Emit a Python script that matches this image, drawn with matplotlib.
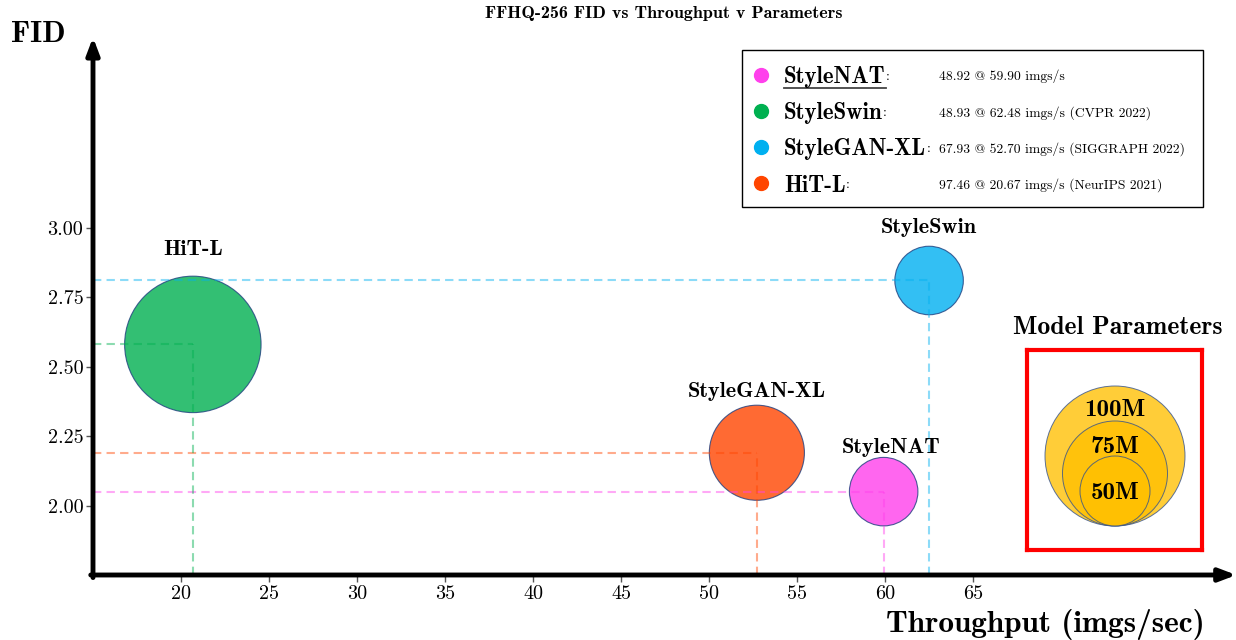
import matplotlib
matplotlib.use("Agg")
import matplotlib.pyplot as plt
from matplotlib.patches import Circle, Rectangle
from matplotlib.lines import Line2D

# ---------------- data ----------------
models = ["StyleNAT", "StyleSwin", "StyleGAN-XL", "HiT-L"]
throughput = [59.90, 62.48, 52.70, 20.67]
fid = [2.05, 2.81, 2.19, 2.58]
params = [48.92, 48.93, 67.93, 97.46]
venues = ["", " (CVPR 2022)", " (SIGGRAPH 2022)", " (NeurIPS 2021)"]
circle_colors = ["#ff40ec", "#00b0f0", "#ff4500", "#00b050"]
legend_colors = ["#ff40ec", "#00b050", "#00b0f0", "#ff4500"]
bubble_labels = ["StyleNAT", "StyleSwin", "StyleGAN-XL", "HiT-L"]
label_dy = [0.16, 0.19, 0.22, 0.34]
label_dx = [0.45, 0.0, 0.0, 0.0]
size_ref = [100, 75, 50]
size_ref_labels = ["100M", "75M", "50M"]
xticks = [20, 25, 30, 35, 40, 45, 50, 55, 60, 65]
yticks = [2.00, 2.25, 2.50, 2.75, 3.00]

W, H, DPI = 1236, 640, 100
RAD_PER_M = 0.7  # pixels of radius per million parameters

plt.rcParams["axes.formatter.use_mathtext"] = True
RM = ["cmr10", "DejaVu Serif"]
BF = ["cmb10", "DejaVu Serif"]

fig = plt.figure(figsize=(W / DPI, H / DPI), dpi=DPI)

def fx(px):
    return px / W

def fy(py):
    return 1 - py / H

# main axes
ax_l, ax_r, ax_t, ax_b = 93, 1220, 61, 575
ax = fig.add_axes([fx(ax_l), fy(ax_b), (ax_r - ax_l) / W, (ax_b - ax_t) / H])
ax.set_xlim(15, 79)
ax.set_ylim(1.75, 3.6)
for s in ax.spines.values():
    s.set_visible(False)

ax.set_xticks(xticks)
ax.set_yticks(yticks)
ax.set_xticklabels([str(t) for t in xticks], fontfamily=RM, fontsize=14.5)
ax.set_yticklabels(["%.2f" % t for t in yticks], fontfamily=RM, fontsize=14.5)
ax.tick_params(direction="out", length=5, width=1, color="#555555", pad=2)

# bubbles
def s_of(p):
    r_pt = p * RAD_PER_M * 72 / DPI
    return (2 * r_pt) ** 2

ax.scatter(throughput, fid, s=[s_of(p) for p in params], c=circle_colors,
           alpha=0.8, edgecolors="#1f3f7f", linewidths=0.8, zorder=3)

# dashed guides
for x, y, c in zip(throughput, fid, circle_colors):
    ax.plot([15, x], [y, y], ls=(0, (4, 2.5)), color=c, alpha=0.45, lw=1.5, zorder=4)
    ax.plot([x, x], [1.75, y], ls=(0, (4, 2.5)), color=c, alpha=0.45, lw=1.5, zorder=4)

# bubble labels (as placed in the original figure)
for x, y, dx, dy, lab in zip(throughput, fid, label_dx, label_dy, bubble_labels):
    ax.text(x + dx, y + dy, lab, ha="center", va="center",
            fontfamily=BF, fontsize=16, zorder=5)

# arrow axes
ax.annotate("", xy=(0, 1.046), xytext=(0, -0.005), xycoords="axes fraction",
            textcoords="axes fraction",
            arrowprops=dict(arrowstyle="-|>,head_length=1.0,head_width=0.38",
                            lw=3.5, color="black", shrinkA=0, shrinkB=0),
            annotation_clip=False, zorder=6)
ax.annotate("", xy=(1.0145, 0), xytext=(-0.002, 0), xycoords="axes fraction",
            textcoords="axes fraction",
            arrowprops=dict(arrowstyle="-|>,head_length=1.0,head_width=0.38",
                            lw=3.5, color="black", shrinkA=0, shrinkB=0),
            annotation_clip=False, zorder=6)

# titles and axis labels
fig.text(fx(664), fy(13), "FFHQ-256 FID vs Throughput v Parameters",
         ha="center", va="center", fontfamily=BF, fontsize=13)
fig.text(fx(38), fy(34), "FID", ha="center", va="center", fontfamily=BF, fontsize=22)
fig.text(fx(1045), fy(625), "Throughput (imgs/sec)", ha="center", va="center",
         fontfamily=BF, fontsize=22.5)

# legend box
fig.patches.append(Rectangle((fx(742), fy(207)), (1203 - 742) / W, (207 - 50) / H,
                             transform=fig.transFigure, fill=False, ec="black",
                             lw=1.0, zorder=10))
row_y = [75, 111, 147, 183]
name_texts = []
for i, (m, p, t, v, c) in enumerate(zip(models, params, throughput, venues, legend_colors)):
    yy = fy(row_y[i])
    fig.add_artist(Line2D([fx(761)], [yy], marker="o", markersize=10, color=c,
                          transform=fig.transFigure, lw=0))
    nt = fig.text(fx(784), yy, m, ha="left", va="center_baseline", fontfamily=BF,
                  fontsize=16.5)
    name_texts.append(nt)
    fig.text(fx(939), yy, "%.2f @ %.2f imgs/s%s" % (p, t, v), ha="left",
             va="center_baseline", fontfamily=RM, fontsize=9.8)

fig.canvas.draw()
rend = fig.canvas.get_renderer()
for i, nt in enumerate(name_texts):
    bb = nt.get_window_extent(rend)
    x1 = bb.x1 / W
    fig.text(x1 + 0.0005, fy(row_y[i]), ":", ha="left", va="center_baseline",
             fontfamily=RM, fontsize=10)
    if i == 0:
        fig.add_artist(Line2D([bb.x0 / W, bb.x1 / W], [fy(88), fy(88)],
                              color="#444444", lw=1.3, transform=fig.transFigure))

# model parameter size key
fig.text(fx(1118), fy(327), "Model Parameters", ha="center", va="center",
         fontfamily=BF, fontsize=18.5)
bx0, bx1, by0, by1 = 1027, 1202, 350, 550
kax = fig.add_axes([fx(bx0), fy(by1), (bx1 - bx0) / W, (by1 - by0) / H])
kax.set_xlim(bx0, bx1)
kax.set_ylim(by1, by0)
kax.set_xticks([])
kax.set_yticks([])
for s in kax.spines.values():
    s.set_color("#ff0000")
    s.set_linewidth(3.0)
bottom = 526
for p, lab in zip(size_ref, size_ref_labels):
    r = p * RAD_PER_M
    kax.add_patch(Circle((1115, bottom - r), r, fc="#ffc000", alpha=0.78,
                         ec="#2f4f8f", lw=0.7))
text_y = [410, 447, 493]
for lab, ty in zip(size_ref_labels, text_y):
    kax.text(1115, ty, lab, ha="center", va="center", fontfamily=BF, fontsize=18)

fig.savefig("out.png", dpi=DPI)
